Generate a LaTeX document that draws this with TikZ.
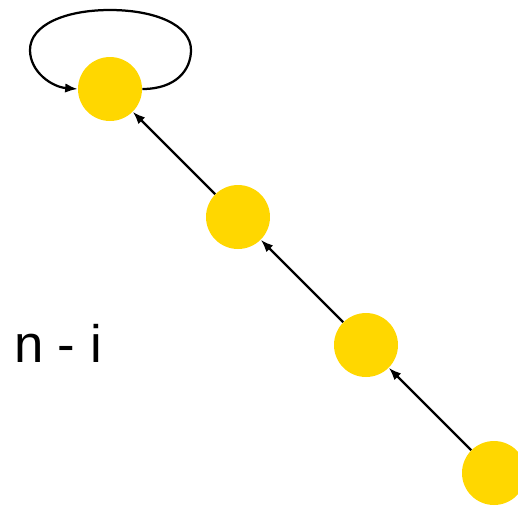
\documentclass[tikz,border=0pt]{standalone}
\usepackage{fontspec}
\setmainfont{Liberation Sans}
\usetikzlibrary{arrows.meta}

\definecolor{dotgold}{RGB}{255,215,0}

\tikzset{
  dot/.style={circle, fill=dotgold, minimum size=1.28cm, inner sep=0pt},
  link/.style={line width=0.045cm, -{Latex[length=0.25cm,width=0.19cm]}},
}

\begin{document}
\begin{tikzpicture}[x=0.02cm, y=-0.02cm]
  \useasboundingbox (0,0) rectangle (518,505);
  \clip (0,0) rectangle (518,505);

  \node[dot] (n1) at (110,89) {};
  \node[dot] (n2) at (238,217) {};
  \node[dot] (n3) at (366,345) {};
  \node[dot] (n4) at (494,473) {};

  \draw[link] (n2) -- (n1);
  \draw[link] (n3) -- (n2);
  \draw[link] (n4) -- (n3);

  % loop over the top node
  \draw[link] (n1.east) .. controls (176,89) and (191,70) .. (191,50)
    .. controls (191,25) and (155,10) .. (110,10)
    .. controls (65,10) and (30,25) .. (30,50)
    .. controls (30,72) and (52,87) .. (n1.west);

  \node[font=\fontsize{30}{36}\selectfont] (lbl) at (58,343) {n - i};
\end{tikzpicture}
\end{document}
